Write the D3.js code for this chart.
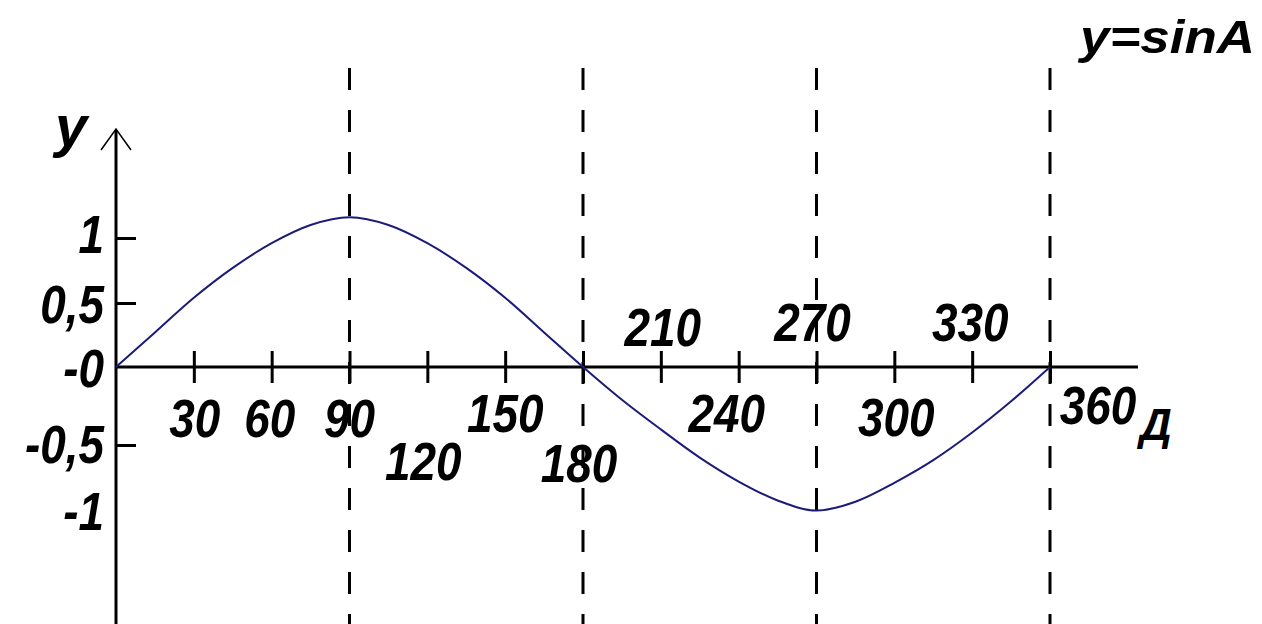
<!DOCTYPE html>
<html>
<head>
<meta charset="utf-8">
<script src="https://cdn.jsdelivr.net/npm/d3@7"></script>
<style>
  html, body { margin: 0; padding: 0; background: #fff; }
  svg { display: block; }
  .lbl { font-family: "Liberation Sans", Arial, sans-serif; font-weight: bold; font-style: italic; fill: #000; }
</style>
</head>
<body>
<div id="main"><svg width="1262" height="624"></svg></div>
<script>
// Data
var angles = [0, 15, 30, 45, 60, 75, 90, 105, 120, 135, 150, 165, 180,
              195, 210, 225, 240, 255, 270, 285, 300, 315, 330, 345, 360];
var sinValues = [0, 0.27, 0.54, 0.77, 0.96, 1.10, 1.16, 1.10, 0.96, 0.77, 0.54, 0.27, 0,
                 -0.21, -0.40, -0.60, -0.79, -0.94, -1.02, -0.95, -0.80, -0.62, -0.42, -0.22, 0];
var xTicks = [30, 60, 90, 120, 150, 180, 210, 240, 270, 300, 330, 360];
var xTickLabels = ["30", "60", "90", "120", "150", "180", "210", "240", "270", "300", "330", "360"];
var yTicks = [-1, -0.5, 0, 0.5, 1];
var yTickLabels = ["-1", "-0,5", "-0", "0,5", "1"];
var guideAngles = [90, 180, 270, 360];
var titleText = "y=sinA";
var yAxisTitle = "y";
var xAxisTitle = "Д";

// Layout of the staggered x labels (offsets from tick, in px)
var xLabelPos = {
  30: [1, 51], 60: [-2, 51], 90: [0, 51], 120: [-4, 94], 150: [0, 46], 180: [-4, 96],
  210: [2, -40], 240: [-12, 46], 270: [-4, -45], 300: [2, 50], 330: [-2, -45], 360: [48, 38]
};

var svg = d3.select("#main").select("svg");
var g = svg.append("g");

// Scales
var xScale = d3.scaleLinear().domain([0, 360]).range([116, 1050]);
var yScale = d3.scaleLinear()
    .domain([-1, -0.5, 0, 0.5, 1])
    .range([508, 445, 367, 303, 238]);

var x0 = xScale(0), y0 = yScale(0);

// Dashed guide lines
g.selectAll(".guide")
    .data(guideAngles)
    .enter().append("line")
    .attr("class", "guide")
    .attr("x1", function(d) { return xScale(d); })
    .attr("x2", function(d) { return xScale(d); })
    .attr("y1", 68)
    .attr("y2", 624)
    .attr("stroke", "#000")
    .attr("stroke-width", 3)
    .attr("stroke-dasharray", "22,20");

// X axis
var xAxis = d3.axisBottom(xScale)
    .tickValues(xTicks)
    .tickSizeInner(16)
    .tickSizeOuter(0)
    .tickFormat("");
var xg = g.append("g")
    .attr("transform", "translate(0," + y0 + ")")
    .call(xAxis);
xg.select(".domain").remove();
xg.selectAll(".tick line")
    .attr("y1", -16)
    .attr("stroke-width", 3)
    .attr("stroke", "#000");
g.append("line")
    .attr("x1", x0).attr("x2", 1138)
    .attr("y1", y0).attr("y2", y0)
    .attr("stroke", "#000").attr("stroke-width", 3);

// Y axis
var yAxis = d3.axisLeft(yScale)
    .tickValues(yTicks)
    .tickSizeInner(-20)
    .tickSizeOuter(0)
    .tickPadding(12)
    .tickFormat(function(d, i) { return yTickLabels[i]; });
var yg = g.append("g")
    .attr("transform", "translate(" + x0 + ",0)")
    .call(yAxis);
yg.select(".domain").remove();
yg.selectAll(".tick line")
    .attr("stroke", "#000")
    .attr("stroke-width", 3)
    .filter(function(d) { return d === 0 || d === -1; })
    .remove();
yg.selectAll(".tick text")
    .attr("class", "lbl")
    .attr("font-size", null)
    .attr("font-family", null)
    .style("font-size", "54px")
    .attr("x", null)
    .attr("dy", null)
    .attr("text-anchor", "end")
    .attr("transform", function(d) {
        var dy = d === 1 ? -5 : (d === -1 ? 2 : (d === -0.5 ? -2 : 0));
        return "translate(-12," + (dy + 19) + ") scale(0.85,1)";
    });
g.append("line")
    .attr("x1", x0).attr("x2", x0)
    .attr("y1", 130).attr("y2", 624)
    .attr("stroke", "#000").attr("stroke-width", 3);

// Arrow head on y axis
g.append("path")
    .attr("d", "M" + (x0 - 15) + ",150 L" + x0 + ",129 L" + (x0 + 15) + ",150")
    .attr("fill", "none")
    .attr("stroke", "#000")
    .attr("stroke-width", 1.5);

// X tick labels
g.selectAll(".xl")
    .data(xTicks)
    .enter().append("text")
    .attr("class", "lbl")
    .style("font-size", "54px")
    .attr("text-anchor", "middle")
    .attr("transform", function(d) {
        var p = xLabelPos[d];
        return "translate(" + (xScale(d) + p[0]) + "," + (y0 + p[1] + 19) + ") scale(0.85,1)";
    })
    .text(function(d, i) { return xTickLabels[i]; });

// Axis titles
g.append("text")
    .attr("class", "lbl")
    .style("font-size", "44px")
    .attr("text-anchor", "middle")
    .attr("transform", "translate(1156,440)")
    .text(xAxisTitle);

g.append("text")
    .attr("class", "lbl")
    .style("font-size", "58px")
    .attr("text-anchor", "middle")
    .attr("transform", "translate(71,146)")
    .text(yAxisTitle);

g.append("text")
    .attr("class", "lbl")
    .style("font-size", "46px")
    .attr("text-anchor", "end")
    .attr("transform", "translate(1255,53) scale(1.15,1)")
    .text(titleText);

// Sine curve
var lineGen = d3.line()
    .x(function(d, i) { return xScale(angles[i]); })
    .y(function(d) { return yScale(d); })
    .curve(d3.curveMonotoneX);

g.append("path")
    .datum(sinValues)
    .attr("d", lineGen)
    .attr("fill", "none")
    .attr("stroke", "#1c1c78")
    .attr("stroke-width", 2);
</script>
</body>
</html>
